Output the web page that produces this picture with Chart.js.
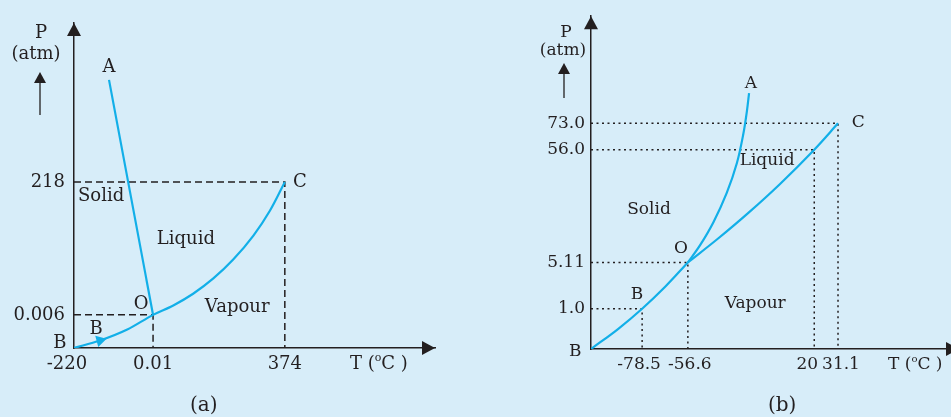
<!DOCTYPE html>
<html>
<head>
<meta charset="utf-8">
<script src="https://cdn.jsdelivr.net/npm/chart.js@4.4.0/dist/chart.umd.min.js"></script>
<style>
  html, body { margin: 0; padding: 0; width: 951px; height: 417px; overflow: hidden; background: #d7edf9; }
  .panel { position: absolute; top: 0; height: 417px; }
  #pa { left: 0; width: 475px; }
  #pb { left: 475px; width: 490px; }
  .cap { position: absolute; top: 392px; font: 20px "DejaVu Serif"; color: #231f20; }
</style>
</head>
<body>
<div class="panel" id="pa"><canvas id="chartA" width="475" height="417"></canvas></div>
<div class="panel" id="pb"><canvas id="chartB" width="490" height="417"></canvas></div>
<div class="cap" style="left:190px">(a)</div>
<div class="cap" style="left:768px">(b)</div>
<script>
// Both diagrams are schematic (not to scale), so the axes run in
// diagram units 0..100 and the labelled values sit at fixed tick spots.

// (a) water
var waterXTicks = [0, 21.9, 58.4];
var waterXLabels = ['-220', '0.01', '374'];
var waterYTicks = [10.2, 51.1];
var waterYLabels = ['0.006', '218'];
var waterBOC = [
  {x: 0, y: 0}, {x: 7.2, y: 2.3}, {x: 14.6, y: 5.6}, {x: 21.9, y: 10.2},
  {x: 27.5, y: 13.1}, {x: 33.0, y: 16.7}, {x: 38.6, y: 21.4},
  {x: 44.1, y: 27.2}, {x: 49.7, y: 34.6}, {x: 54.3, y: 42.3}, {x: 58.4, y: 51.1}
];
var waterOA = [{x: 21.9, y: 10.2}, {x: 9.7, y: 82.5}];
var waterText = [
  {t: 'A', x: 9.7, y: 86.5}, {t: 'C', x: 62.6, y: 51.1},
  {t: 'Solid', x: 7.5, y: 46.8}, {t: 'Liquid', x: 31.0, y: 33.5},
  {t: 'O', x: 18.6, y: 13.5}, {t: 'Vapour', x: 45.2, y: 12.6},
  {t: 'B', x: 6.1, y: 5.8}, {t: 'B', x: -3.9, y: 1.5}
];

// (b) carbon dioxide
var co2XTicks = [14.2, 26.9, 62.0, 68.6];
var co2XLabels = ['-78.5', '-56.6', '20', '31.1'];
var co2YTicks = [12.1, 26.0, 59.9, 67.8];
var co2YLabels = ['1.0', '5.11', '56.0', '73.0'];
var co2BO = [{x: 0, y: 0}, {x: 7.5, y: 6.0}, {x: 14.2, y: 12.1}, {x: 20.6, y: 18.7}, {x: 26.9, y: 26.0}];
var co2OC = [
  {x: 26.9, y: 26.0}, {x: 35.3, y: 33.2}, {x: 43.7, y: 40.9},
  {x: 52.5, y: 49.6}, {x: 62.0, y: 59.9}, {x: 68.6, y: 67.8}
];
var co2OA = [
  {x: 26.9, y: 26.0}, {x: 30.3, y: 31.2}, {x: 34.0, y: 38.1}, {x: 37.7, y: 46.9},
  {x: 40.5, y: 55.8}, {x: 42.3, y: 64.6}, {x: 43.3, y: 71.5}, {x: 43.9, y: 76.9}
];
var co2Text = [
  {t: 'A', x: 44.4, y: 79.9}, {t: 'C', x: 74.2, y: 68.1},
  {t: 'Liquid', x: 48.9, y: 56.6}, {t: 'Solid', x: 16.1, y: 41.9},
  {t: 'O', x: 25.0, y: 30.1}, {t: 'B', x: 12.8, y: 16.5},
  {t: 'Vapour', x: 45.6, y: 13.6}, {t: 'B', x: -4.4, y: -0.9}
];

var ink = '#231f20';
var cyan = '#12afe8';
var serif = '"DejaVu Serif", serif';

// dashed guide from both axes to the point (xv, yv)
function guide(xv, yv, dash) {
  return {
    data: [{x: 0, y: yv}, {x: xv, y: yv}, {x: xv, y: 0}],
    showLine: true, borderColor: ink, borderWidth: 1.5, borderDash: dash,
    pointRadius: 0, tension: 0
  };
}

function curve(pts, extra) {
  var d = {
    data: pts, showLine: true, borderColor: cyan, borderWidth: 2.2,
    pointRadius: 0, tension: 0.35
  };
  for (var k in extra) d[k] = extra[k];
  return d;
}

function tri(ctx, x1, y1, x2, y2, x3, y3) {
  ctx.beginPath();
  ctx.moveTo(x1, y1); ctx.lineTo(x2, y2); ctx.lineTo(x3, y3);
  ctx.closePath();
  ctx.fill();
}

var phasePlugin = {
  id: 'phase',
  afterDraw: function (chart, args, o) {
    var ctx = chart.ctx, a = chart.chartArea;
    var xs = chart.scales.x, ys = chart.scales.y;
    ctx.save();
    ctx.fillStyle = ink;
    ctx.strokeStyle = ink;

    // arrowheads on the axes
    tri(ctx, a.left, a.top, a.left - 7, a.top + 13, a.left + 7, a.top + 13);
    tri(ctx, a.right, a.bottom, a.right - 13, a.bottom - 7, a.right - 13, a.bottom + 7);

    ctx.textAlign = 'center';
    ctx.textBaseline = 'middle';
    ctx.font = o.size + 'px ' + serif;

    // temperature labels under the x axis (nudged apart where they crowd)
    o.xTicks.forEach(function (v, i) {
      ctx.fillText(o.xLabels[i], xs.getPixelForValue(v) + (o.xNudge[i] || 0), a.bottom + 16);
    });

    // P (atm) with the small up arrow
    ctx.fillText('P', o.pX, o.pY);
    ctx.fillText('(atm)', o.atmX, o.atmY);
    ctx.lineWidth = 1.3;
    ctx.beginPath();
    ctx.moveTo(o.arrX, o.arrBottom);
    ctx.lineTo(o.arrX, o.arrTop + 10);
    ctx.stroke();
    tri(ctx, o.arrX, o.arrTop, o.arrX - 6, o.arrTop + 11, o.arrX + 6, o.arrTop + 11);

    // T (°C )
    ctx.textAlign = 'left';
    var tx = o.tX, ty = a.bottom + 16;
    ctx.fillText('T (', tx, ty);
    tx += ctx.measureText('T (').width;
    ctx.font = Math.round(o.size * 0.6) + 'px ' + serif;
    ctx.fillText('o', tx, ty - 6);
    tx += ctx.measureText('o').width;
    ctx.font = o.size + 'px ' + serif;
    ctx.fillText('C )', tx, ty);

    // region and point names
    ctx.textAlign = 'center';
    o.text.forEach(function (m) {
      ctx.fillText(m.t, xs.getPixelForValue(m.x), ys.getPixelForValue(m.y));
    });
    ctx.restore();
  }
};

function makeChart(id, cfg) {
  cfg.phase.xTicks = cfg.xTicks;
  cfg.phase.xLabels = cfg.xLabels;
  return new Chart(document.getElementById(id), {
    type: 'scatter',
    data: {datasets: cfg.datasets},
    plugins: [phasePlugin],
    options: {
      responsive: false,
      animation: false,
      events: [],
      layout: {padding: {top: cfg.top, right: cfg.right, left: 0, bottom: 0}},
      plugins: {
        legend: {display: false},
        tooltip: {enabled: false},
        phase: cfg.phase
      },
      scales: {
        x: {
          type: 'linear', min: 0, max: cfg.xMax,
          afterFit: function (s) { s.height = cfg.xHeight; },
          afterBuildTicks: function (s) {
            s.ticks = cfg.xTicks.map(function (v) { return {value: v}; });
          },
          grid: {display: false, drawTicks: false},
          border: {display: true, color: ink, width: 1.5},
          ticks: {display: false}
        },
        y: {
          type: 'linear', min: 0, max: 100,
          afterFit: function (s) { s.width = cfg.yWidth; },
          afterBuildTicks: function (s) {
            s.ticks = cfg.yTicks.map(function (v) { return {value: v}; });
          },
          grid: {display: false, drawTicks: false},
          border: {display: true, color: ink, width: 1.5},
          ticks: {
            padding: cfg.yPad, color: ink, autoSkip: false,
            font: {family: serif, size: cfg.phase.size},
            callback: function (v, i) { return cfg.yLabels[i]; }
          }
        }
      }
    }
  });
}

var dashA = [7, 4];
var dashB = [2, 3.5];

makeChart('chartA', {
  top: 23, right: 40, yWidth: 74, xHeight: 69, xMax: 100, yPad: 9,
  xTicks: waterXTicks, xLabels: waterXLabels,
  yTicks: waterYTicks, yLabels: waterYLabels,
  datasets: [
    curve(waterBOC, {
      pointRadius: [0, 4.5, 0, 0, 0, 0, 0, 0, 0, 0, 0],
      pointStyle: 'triangle', pointRotation: 75,
      pointBackgroundColor: cyan, pointBorderColor: cyan
    }),
    curve(waterOA, {tension: 0}),
    guide(waterXTicks[1], waterYTicks[0], dashA),
    guide(waterXTicks[2], waterYTicks[1], dashA)
  ],
  phase: {
    size: 18, text: waterText, xNudge: [-7, 0, 0],
    pX: 41, pY: 33, atmX: 36, atmY: 54,
    arrX: 40, arrTop: 72, arrBottom: 115, tX: 350
  }
});

makeChart('chartB', {
  top: 10, right: 6, yWidth: 116, xHeight: 68, xMax: 102.2, yPad: 6,
  xTicks: co2XTicks, xLabels: co2XLabels,
  yTicks: co2YTicks, yLabels: co2YLabels,
  datasets: [
    curve(co2BO, {}),
    curve(co2OC, {}),
    curve(co2OA, {}),
    guide(co2XTicks[0], co2YTicks[0], dashB),
    guide(co2XTicks[1], co2YTicks[1], dashB),
    guide(co2XTicks[2], co2YTicks[2], dashB),
    guide(co2XTicks[3], co2YTicks[3], dashB)
  ],
  phase: {
    size: 17, text: co2Text, xNudge: [-3, 2, -7, 3],
    pX: 91, pY: 33, atmX: 88, atmY: 51,
    arrX: 89, arrTop: 63, arrBottom: 98, tX: 413
  }
});
</script>
</body>
</html>
